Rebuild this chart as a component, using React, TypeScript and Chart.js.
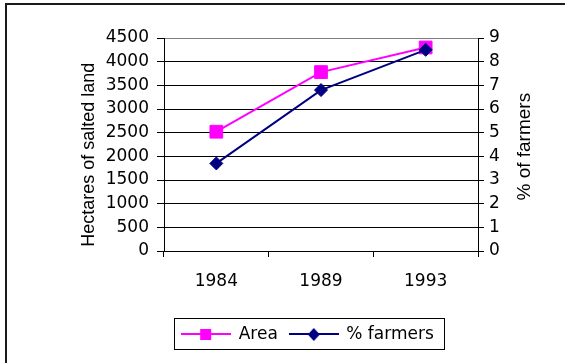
import React, { useEffect, useRef } from "react";
import { Chart, registerables } from "chart.js";

Chart.register(...registerables);

const categories = ["1984", "1989", "1993"];
const areaValues = [2520, 3780, 4300];
const farmerValues = [3.7, 6.8, 8.5];
const seriesNames = ["Area", "% farmers"];
const leftTitle = "Hectares of salted land";
const rightTitle = "% of farmers";

const PINK = "#FF00FF";
const NAVY = "#000080";

function makeSwatch(color: string, kind: "square" | "diamond") {
  const c = document.createElement("canvas");
  c.width = 50;
  c.height = 15;
  const g = c.getContext("2d")!;
  g.fillStyle = color;
  g.fillRect(0, 6, 50, 2);
  if (kind === "square") {
    g.fillRect(19, 2, 11, 11);
  } else {
    g.beginPath();
    g.moveTo(25, 1);
    g.lineTo(31, 7.5);
    g.lineTo(25, 14);
    g.lineTo(19, 7.5);
    g.closePath();
    g.fill();
  }
  return c;
}

const framePlugin = {
  id: "frame",
  afterDraw(chart: any) {
    const ctx = chart.ctx as CanvasRenderingContext2D;
    ctx.save();
    ctx.fillStyle = "#1a1a1a";
    ctx.fillRect(5, 3, 560, 2);
    ctx.fillRect(5, 3, 2, 360);
    ctx.fillStyle = "#000";
    ctx.textAlign = "center";
    ctx.textBaseline = "alphabetic";
    ctx.font = "18px 'Liberation Sans', Arial, sans-serif";
    ctx.save();
    ctx.translate(93.5, 154.7);
    ctx.rotate(-Math.PI / 2);
    ctx.fillText(leftTitle, 0, 0);
    ctx.restore();
    ctx.font = "19px 'Liberation Sans', Arial, sans-serif";
    ctx.save();
    ctx.translate(530, 146.7);
    ctx.rotate(-Math.PI / 2);
    ctx.fillText(rightTitle, 0, 0);
    ctx.restore();
    const hb = chart.legend && chart.legend.legendHitBoxes;
    if (hb && hb.length) {
      const first = hb[0];
      const last = hb[hb.length - 1];
      const l = Math.round(first.left - 8) + 0.5;
      const t = Math.round(first.top - 8) + 0.5;
      const r = Math.round(last.left + last.width + 10) + 0.5;
      ctx.strokeStyle = "#000";
      ctx.lineWidth = 1;
      ctx.strokeRect(l, t, r - l, 31);
    }
    ctx.restore();
  },
};

export default function App() {
  const ref = useRef<HTMLCanvasElement | null>(null);

  useEffect(() => {
    document.body.style.margin = "0";
    const canvas = ref.current!;
    const swatches = [makeSwatch(PINK, "square"), makeSwatch(NAVY, "diamond")];
    const tickFont = { family: "'DejaVu Sans', sans-serif", size: 17 };
    const plain = (v: any) => String(v);
    const chart = new Chart(canvas, {
      type: "line",
      data: {
        labels: categories,
        datasets: [
          {
            label: seriesNames[0],
            data: areaValues,
            yAxisID: "y",
            borderColor: PINK,
            backgroundColor: PINK,
            borderWidth: 2,
            pointStyle: "rect",
            pointRadius: 9,
            pointBorderWidth: 1,
            pointBackgroundColor: PINK,
            pointBorderColor: PINK,
            tension: 0,
            order: 1,
            clip: false as any,
          },
          {
            label: seriesNames[1],
            data: farmerValues,
            yAxisID: "y1",
            borderColor: NAVY,
            backgroundColor: NAVY,
            borderWidth: 2,
            pointStyle: "rectRot",
            pointRadius: 6.5,
            pointBorderWidth: 1,
            pointBackgroundColor: NAVY,
            pointBorderColor: NAVY,
            tension: 0,
            order: 0,
            clip: false as any,
          },
        ],
      },
      options: {
        responsive: false,
        animation: false,
        devicePixelRatio: 1,
        layout: { padding: { left: 51, right: 0, top: 38, bottom: 10 } },
        plugins: {
          tooltip: { enabled: false },
          title: { display: false },
          legend: {
            display: true,
            position: "bottom",
            labels: {
              usePointStyle: true,
              pointStyleWidth: 48,
              padding: 12,
              color: "#000",
              font: tickFont,
              generateLabels: (ch: any) =>
                ch.data.datasets.map((ds: any, i: number) => ({
                  text: ds.label,
                  pointStyle: swatches[i],
                  datasetIndex: i,
                  hidden: false,
                  fillStyle: ds.borderColor,
                  strokeStyle: ds.borderColor,
                  lineWidth: 0,
                  fontColor: "#000",
                })),
            },
          },
        },
        scales: {
          x: {
            type: "category",
            offset: true,
            grid: {
              display: true,
              drawOnChartArea: false,
              drawTicks: true,
              tickLength: 6,
              tickColor: "#000",
              offset: true,
            },
            border: { display: true, color: "#000", width: 1 },
            ticks: { color: "#000", font: tickFont, padding: 14, maxRotation: 0 },
            afterFit: (s: any) => {
              s.height = 63;
            },
          },
          y: {
            type: "linear",
            position: "left",
            min: 0,
            max: 4500,
            grid: {
              color: (c: any) => (c.tick && c.tick.value === 4500 ? "#808080" : "#000"),
              tickColor: "#000",
              tickLength: 7,
              lineWidth: 1,
            },
            border: { display: true, color: "#000", width: 1 },
            ticks: { stepSize: 500, color: "#000", font: tickFont, padding: 8, callback: plain },
            afterFit: (s: any) => {
              s.width = 113;
            },
          },
          y1: {
            type: "linear",
            position: "right",
            min: 0,
            max: 9,
            grid: { drawOnChartArea: false, tickColor: "#000", tickLength: 6 },
            border: { display: true, color: "#000", width: 1 },
            ticks: { stepSize: 1, color: "#000", font: tickFont, padding: 5, callback: plain },
            afterFit: (s: any) => {
              s.width = 87;
            },
          },
        },
      } as any,
      plugins: [framePlugin],
    });
    return () => chart.destroy();
  }, []);

  return (
    <div style={{ position: "fixed", left: 0, top: 0, width: 565, height: 363, background: "#fff" }}>
      <canvas ref={ref} width={565} height={363} style={{ display: "block", width: 565, height: 363 }} />
    </div>
  );
}
